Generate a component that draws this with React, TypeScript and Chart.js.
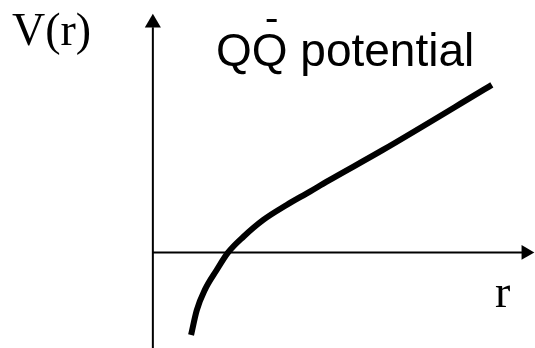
import React, { useEffect, useRef } from "react";
import { Chart, registerables } from "chart.js";

Chart.register(...registerables);

// Potential curve V(r) (arbitrary units)
const rValues = [1.0, 1.15, 1.36, 1.67, 1.97, 2.37, 2.89, 3.5, 4.11, 4.55, 6.02, 8.87];
const vValues = [-2.16, -1.51, -0.98, -0.46, 0.0, 0.41, 0.85, 1.24, 1.59, 1.85, 2.68, 4.38];

// Axis extents (same units)
const rAxisEnd = 9.66;
const rArrow = 9.76;
const vAxisEnd = 5.89;
const vArrow = 6.0;
const xRange = [-4, 10];
const yRange = [-2.5, 6.6];

const yLabel = "V(r)";
const xLabel = "r";
const titleText = "QQ potential";

const textPlugin = {
  id: "sketchText",
  afterDraw(chart: any) {
    const ctx = chart.ctx as CanvasRenderingContext2D;
    ctx.save();
    ctx.fillStyle = "#000";
    ctx.textBaseline = "alphabetic";
    ctx.textAlign = "left";
    ctx.font = '46px "Liberation Serif"';
    ctx.fillText(yLabel, 12, 45);
    ctx.fillText(xLabel, 495, 307);
    ctx.font = '46px "Liberation Sans"';
    ctx.fillText(titleText, 216, 66);
    // bar over the second Q (anti-quark)
    const wQ = ctx.measureText("Q").width;
    const cx = 216 + wQ * 1.5 + 2;
    ctx.fillRect(cx - 5, 19, 10, 3);
    ctx.restore();
  },
};

export default function App() {
  const ref = useRef<HTMLCanvasElement | null>(null);
  useEffect(() => {
    document.body.style.margin = "0";
    const canvas = ref.current;
    if (!canvas) return;
    const curve = rValues.map((r, i) => ({ x: r, y: vValues[i] }));
    const chart = new Chart(canvas, {
      type: "scatter",
      data: {
        datasets: [
          {
            data: [
              { x: 0, y: yRange[0] },
              { x: 0, y: vAxisEnd },
            ],
            showLine: true,
            borderColor: "#000",
            borderWidth: 2,
            pointRadius: 0,
            clip: false as any,
          },
          {
            data: [
              { x: 0, y: 0 },
              { x: rAxisEnd, y: 0 },
            ],
            showLine: true,
            borderColor: "#000",
            borderWidth: 2,
            pointRadius: 0,
            clip: false as any,
          },
          {
            data: [{ x: 0, y: vArrow }],
            pointStyle: "triangle",
            pointRadius: 9.3,
            pointRotation: 0,
            backgroundColor: "#000",
            borderColor: "#000",
            borderWidth: 0,
            clip: false as any,
          },
          {
            data: [{ x: rArrow, y: 0 }],
            pointStyle: "triangle",
            pointRadius: 8.5,
            pointRotation: 90,
            backgroundColor: "#000",
            borderColor: "#000",
            borderWidth: 0,
            clip: false as any,
          },
          {
            data: curve,
            showLine: true,
            borderColor: "#000",
            borderWidth: 6,
            borderCapStyle: "butt",
            borderJoinStyle: "round",
            cubicInterpolationMode: "monotone",
            pointRadius: 0,
            clip: false as any,
          },
        ],
      },
      options: {
        animation: false,
        responsive: false,
        layout: { padding: 0, autoPadding: false },
        events: [],
        plugins: {
          legend: { display: false },
          tooltip: { enabled: false },
          title: { display: false },
        },
        scales: {
          x: { type: "linear", min: xRange[0], max: xRange[1], display: false },
          y: { type: "linear", min: yRange[0], max: yRange[1], display: false },
        },
      },
      plugins: [textPlugin],
    });
    return () => chart.destroy();
  }, []);
  return (
    <div style={{ width: 535, height: 348, background: "#fff" }}>
      <canvas ref={ref} width={535} height={348} />
    </div>
  );
}
